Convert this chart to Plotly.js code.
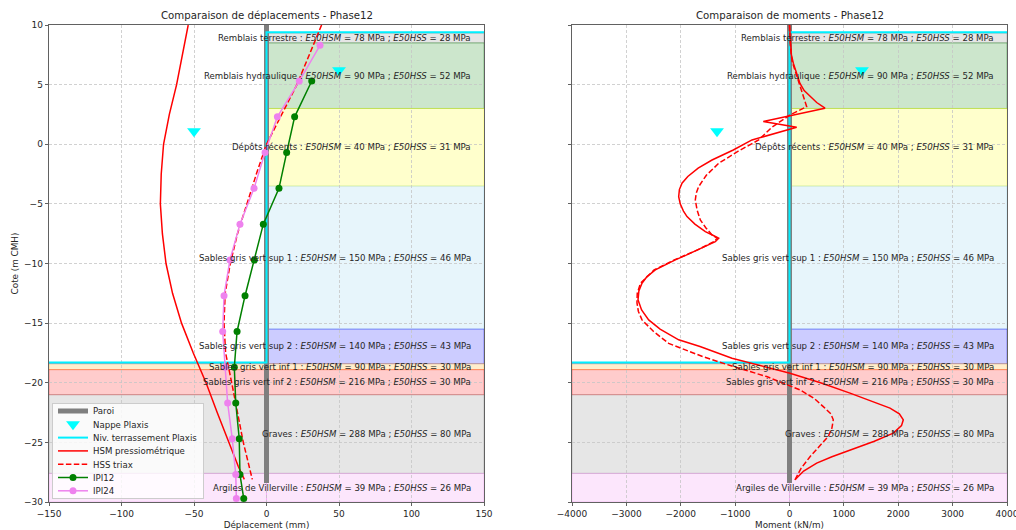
<!DOCTYPE html>
<html>
<head>
<meta charset="utf-8">
<script src="https://cdn.plot.ly/plotly-3.0.1.min.js"></script>
<style>
  html, body { margin: 0; padding: 0; background: #ffffff; }
  #chart { width: 1016px; height: 530px; }
</style>
</head>
<body>
<div id="chart"></div>
<script>
// Soil layers (levels in m CMH)
const layerNames = ['Remblais terrestre', 'Remblais hydraulique', 'Dépôts récents',
  'Sables gris vert sup 1', 'Sables gris vert sup 2', 'Sables gris vert inf 1',
  'Sables gris vert inf 2', 'Graves', 'Argiles de Villerville'];
const layerTops = [9.3, 8.5, 3.0, -3.5, -15.5, -18.4, -18.9, -21.0, -27.6];
const layerBottoms = [8.5, 3.0, -3.5, -15.5, -18.4, -18.9, -21.0, -27.6, -30.0];
const e50HSM = [78, 90, 40, 150, 140, 90, 216, 288, 39];
const e50HSS = [28, 52, 31, 46, 43, 30, 30, 80, 26];
const layerRGB = ['128,128,128', '0,128,0', '255,255,0', '135,206,235', '0,0,255',
  '255,165,0', '255,0,0', '128,128,128', '238,130,238'];

// Wall, excavation and water levels
const wallTop = 10.0;
const wallBottom = -28.4;
const excavationTop = 9.4;
const excavationBottom = -18.3;
const nappeLevels = [6.2, 1.1];
const nappeDisp = [50, -50];
const nappeMoment = [1333, -1333];

// Displacement profiles (mm)
const dispLevels = [10, 7.5, 5, 2.5, 0, -2.5, -5, -7.5, -10, -12.5, -15, -17.5, -20, -22.5, -25, -27, -28.1];
const hsmDisp = [-54, -58, -62, -67, -71, -72.6, -73.2, -71.8, -69.3, -64.8, -58.6, -50.5, -41.7, -34, -26.1, -19.5, -15.3];
const hssDisp = [38, 29.5, 21, 10.5, 0, -7, -13.6, -20, -25, -28.5, -29.3, -28.2, -24, -20, -16, -12, -9.8];

// Inclinometer readings (mm)
const ipi12Levels = [5.3, 2.3, -0.7, -3.7, -6.7, -9.7, -12.7, -15.7, -18.7, -21.7, -24.7, -27.7, -29.7];
const ipi12Disp = [31.2, 19.4, 13.9, 8.6, -2.2, -8.4, -14.8, -20.3, -22.2, -21.2, -18.8, -18.3, -15.7];
const ipi24Levels = [8.3, 5.3, 2.3, -0.7, -3.7, -6.7, -9.7, -12.7, -15.7, -18.7, -21.7, -24.7, -27.7, -29.7];
const ipi24Disp = [36.9, 22.6, 7.5, -1.0, -8.6, -18.3, -25.2, -29.3, -30.2, -28.5, -26.8, -23.6, -21.2, -20.8];

// Bending moment profiles (kN/m)
const hsmMomLevels = [10, 8.5, 7.5, 6.8, 6.0, 5.1, 4.5, 4.0, 3.5, 3.02, 1.9, 1.42, 0.36, -0.48, -1.32, -2.0,
  -2.7, -3.27, -3.8, -4.39, -5.0, -5.6, -6.07, -6.7, -7.33, -7.65, -7.88, -8.16, -8.5, -8.86, -9.3, -9.7,
  -10.1, -10.54, -11.1, -11.65, -12.3, -13.05, -13.9, -14.73, -15.5, -16.4, -16.96, -17.94, -19.2, -20.0,
  -20.87, -21.5, -22.13, -22.6, -23.11, -23.6, -24.22, -24.9, -25.62, -26.2, -26.74, -27.4, -28.14];
const hsmMoment = [0, 15, 35, 70, 125, 193, 270, 377, 500, 653, -482, 132, -690, -1034, -1425, -1680,
  -1870, -1977, -2025, -2038, -2010, -1950, -1885, -1740, -1548, -1400, -1302, -1364, -1520, -1670, -1900, -2100,
  -2290, -2468, -2620, -2713, -2770, -2786, -2720, -2590, -2380, -2038, -1646, -1058, 9, 570,
  1113, 1500, 1848, 2020, 2093, 2060, 1909, 1560, 1113, 780, 500, 260, 101];
const hssMomLevels = [10, 8.5, 7.0, 6.2, 5.5, 4.83, 3.9, 3.15, 2.46, 1.42, 0.36, -0.6, -1.6, -2.6, -3.55, -4.1,
  -4.67, -5.5, -6.35, -7.0, -7.6, -7.88, -8.16, -8.86, -9.7, -10.54, -11.65, -12.5, -13.3, -14.0, -14.73,
  -15.7, -16.7, -17.8, -18.64, -19.48, -20.6, -21.3, -22.0, -22.6, -23.11, -23.8, -24.5, -25.3, -26.2, -27.2, -28.14];
const hssMoment = [0, 10, 45, 101, 145, 193, 260, 316, 9, -325, -567, -950, -1302, -1530, -1670, -1715,
  -1732, -1700, -1640, -1540, -1425, -1333, -1390, -1690, -2120, -2490, -2740, -2800, -2805, -2780, -2713,
  -2500, -2222, -1600, -1034, -421, 193, 450, 621, 760, 805, 780, 713, 560, 377, 210, 101];

const dispRange = [-150, 150];
const momRange = [-4000, 4000];

const FONT = 'DejaVu Sans, Liberation Sans, sans-serif';
const TXT = '#262626';
const DASH = '5.5px,2.4px';

function panelTraces(xa, ya, range, nappeX, profiles, legend) {
  const traces = [];
  traces.push({
    x: [0, 0], y: [wallTop, wallBottom], xaxis: xa, yaxis: ya, mode: 'lines',
    name: 'Paroi', showlegend: legend, line: {color: '#7f7f7f', width: 5}
  });
  traces.push({
    x: nappeX, y: nappeLevels, xaxis: xa, yaxis: ya, mode: 'markers',
    name: 'Nappe Plaxis', showlegend: legend,
    marker: {symbol: 'triangle-down', color: '#00ffff', size: 12, line: {width: 0}}
  });
  traces.push({
    x: [range[1], 0, 0, range[0]],
    y: [excavationTop, excavationTop, excavationBottom, excavationBottom],
    xaxis: xa, yaxis: ya, mode: 'lines', name: 'Niv. terrassement Plaxis', showlegend: legend,
    line: {color: '#00f0ff', width: 2}
  });
  profiles.forEach(p => traces.push(Object.assign({xaxis: xa, yaxis: ya, showlegend: legend}, p)));
  return traces;
}

const dispTraces = panelTraces('x', 'y', dispRange, nappeDisp, [
  {x: hsmDisp, y: dispLevels, mode: 'lines', name: 'HSM pressiométrique', line: {color: '#ff0000', width: 1.5}},
  {x: hssDisp, y: dispLevels, mode: 'lines', name: 'HSS triax', line: {color: '#ff0000', width: 1.5, dash: DASH}},
  {x: ipi12Disp, y: ipi12Levels, mode: 'lines+markers', name: 'IPI12',
   line: {color: '#008000', width: 1.5}, marker: {color: '#008000', size: 7}},
  {x: ipi24Disp, y: ipi24Levels, mode: 'lines+markers', name: 'IPI24',
   line: {color: '#ee82ee', width: 1.5}, marker: {color: '#ee82ee', size: 7}}
], true);

const momTraces = panelTraces('x2', 'y2', momRange, nappeMoment, [
  {x: hsmMoment, y: hsmMomLevels, mode: 'lines', name: 'HSM pressiométrique', line: {color: '#ff0000', width: 1.5}},
  {x: hssMoment, y: hssMomLevels, mode: 'lines', name: 'HSS triax', line: {color: '#ff0000', width: 1.5, dash: DASH}}
], false);

// Layer bands: right of the wall everywhere, left of the wall below the excavation level
const shapes = [];
const annotations = [];
[['x', 'y', dispRange], ['x2', 'y2', momRange]].forEach(([xa, ya, range]) => {
  layerNames.forEach((name, i) => {
    const fill = 'rgba(' + layerRGB[i] + ',0.2)';
    const edge = 'rgba(' + layerRGB[i] + ',0.35)';
    shapes.push({type: 'rect', xref: xa, yref: ya, layer: 'below',
      x0: 0, x1: range[1], y0: layerBottoms[i], y1: layerTops[i],
      fillcolor: fill, line: {color: edge, width: 1}});
    if (layerBottoms[i] < excavationBottom) {
      shapes.push({type: 'rect', xref: xa, yref: ya, layer: 'below',
        x0: range[0], x1: 0, y0: layerBottoms[i], y1: Math.min(layerTops[i], excavationBottom),
        fillcolor: fill, line: {color: edge, width: 1}});
    }
    annotations.push({
      xref: xa, yref: ya, x: 0.95 * range[1], y: (layerTops[i] + layerBottoms[i]) / 2,
      xanchor: 'right', yanchor: 'middle', showarrow: false,
      text: name + ' : <i>E50HSM</i> = ' + e50HSM[i] + ' MPa ; <i>E50HSS</i> = ' + e50HSS[i] + ' MPa',
      font: {family: FONT, size: 8.6, color: TXT}
    });
  });
});

const dxDom = [49 / 1016, 484 / 1016];
const mxDom = [572 / 1016, 1007 / 1016];
const yDom = [1 - 502 / 530, 1 - 25 / 530];
const LEGEND_LEFT = 52, LEGEND_TOP = 403;

annotations.push({xref: 'paper', yref: 'paper', x: (dxDom[0] + dxDom[1]) / 2, y: 1 - 16 / 530,
  xanchor: 'center', yanchor: 'middle', showarrow: false,
  text: 'Comparaison de déplacements - Phase12', font: {family: FONT, size: 10.2, color: TXT}});
annotations.push({xref: 'paper', yref: 'paper', x: (mxDom[0] + mxDom[1]) / 2, y: 1 - 16 / 530,
  xanchor: 'center', yanchor: 'middle', showarrow: false,
  text: 'Comparaison de moments - Phase12', font: {family: FONT, size: 10.2, color: TXT}});

const axisBase = {
  showline: true, mirror: true, linecolor: '#3a3a3a', linewidth: 0.8,
  ticks: 'outside', ticklen: 3.5, tickwidth: 0.8, tickcolor: '#3a3a3a',
  showgrid: true, gridcolor: '#c6c6c6', gridwidth: 0.8, griddash: '3px,2px',
  zeroline: false, tickfont: {family: FONT, size: 9, color: TXT}, automargin: false
};

const layout = {
  width: 1016, height: 530,
  margin: {l: 0, r: 0, t: 0, b: 0, autoexpand: false},
  paper_bgcolor: '#ffffff', plot_bgcolor: '#ffffff',
  font: {family: FONT, color: TXT},
  showlegend: true,
  legend: {
    x: LEGEND_LEFT / 1016, y: 1 - 340 / 530, xanchor: 'left', yanchor: 'top',
    bgcolor: 'rgba(255,255,255,0.8)', bordercolor: '#cccccc', borderwidth: 1,
    font: {family: FONT, size: 8.6, color: TXT}, tracegroupgap: 0, itemwidth: 30
  },
  xaxis: Object.assign({}, axisBase, {
    domain: dxDom, anchor: 'y', range: dispRange, tickmode: 'array',
    tickvals: [-150, -100, -50, 0, 50, 100, 150],
    title: {text: 'Déplacement (mm)', font: {family: FONT, size: 8.8, color: TXT}, standoff: 4}
  }),
  yaxis: Object.assign({}, axisBase, {
    domain: yDom, anchor: 'x', range: [-30, 10], tickmode: 'array',
    tickvals: [10, 5, 0, -5, -10, -15, -20, -25, -30],
    title: {text: 'Cote (m CMH)', font: {family: FONT, size: 8.8, color: TXT}, standoff: 3}
  }),
  xaxis2: Object.assign({}, axisBase, {
    domain: mxDom, anchor: 'y2', range: momRange, tickmode: 'array',
    tickvals: [-4000, -3000, -2000, -1000, 0, 1000, 2000, 3000, 4000], ticklabeloverflow: 'allow',
    title: {text: 'Moment (kN/m)', font: {family: FONT, size: 8.8, color: TXT}, standoff: 4}
  }),
  yaxis2: Object.assign({}, axisBase, {
    domain: yDom, anchor: 'x2', range: [-30, 10], tickmode: 'array',
    tickvals: [10, 5, 0, -5, -10, -15, -20, -25, -30], showticklabels: false
  }),
  shapes: shapes,
  annotations: annotations
};

// Tighter legend rows than Plotly's default entry height, box pinned at its final place
function compactLegend(gd) {
  const legend = gd.querySelector('g.legend');
  if (!legend) return;
  const items = legend.querySelectorAll('g.traces');
  const step = 13.3, firstY = 8;
  items.forEach((g, i) => {
    const m = /translate\(\s*([-\d.e]+)[\s,]+([-\d.e]+)\s*\)/.exec(g.getAttribute('transform') || '');
    const x0 = m ? parseFloat(m[1]) : 0;
    g.setAttribute('transform', 'translate(' + x0 + ',' + (firstY + i * step) + ')');
  });
  const h = firstY + (items.length - 1) * step + 7;
  legend.querySelectorAll('rect.bg').forEach(r => r.setAttribute('height', h));
  legend.setAttribute('transform', 'translate(' + LEGEND_LEFT + ',' + LEGEND_TOP + ')');
}

Plotly.newPlot('chart', dispTraces.concat(momTraces), layout, {staticPlot: true, displayModeBar: false})
  .then(compactLegend);
</script>
</body>
</html>
